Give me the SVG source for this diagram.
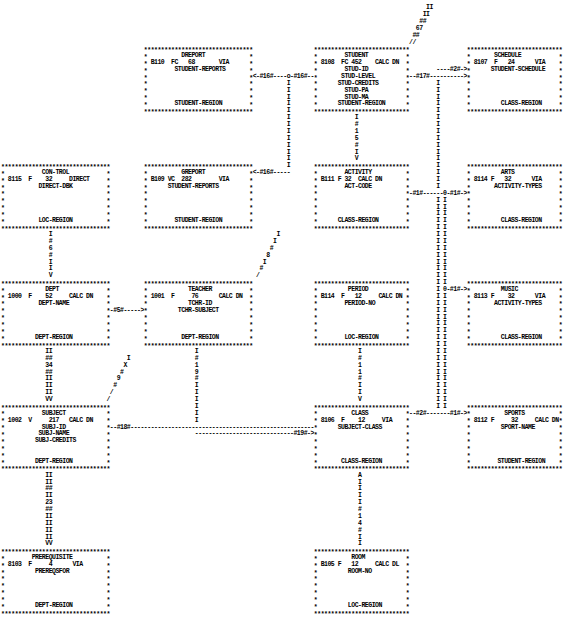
<svg xmlns="http://www.w3.org/2000/svg" xmlns:xlink="http://www.w3.org/1999/xlink" width="565" height="617" viewBox="0 0 565 617">
<style>
text{font-family:"Liberation Mono","DejaVu Sans Mono",monospace;font-size:6.5px;font-weight:bold;letter-spacing:-0.5px;fill:#000}
</style>
<defs>
<g id="fW">
<text x="0" y="3.8">********************************</text>
<text x="0" y="65.68">********************************</text>
<text x="0 0 0 0 0 0 0 0" y="10.68 17.55 24.43 31.3 38.18 45.05 51.93 58.8">********</text>
<text x="105.4 105.4 105.4 105.4 105.4 105.4 105.4 105.4" y="10.68 17.55 24.43 31.3 38.18 45.05 51.93 58.8">********</text>
</g>
<g id="fN">
<text x="0" y="3.8">****************************</text>
<text x="0" y="65.68">****************************</text>
<text x="0 0 0 0 0 0 0 0" y="10.68 17.55 24.43 31.3 38.18 45.05 51.93 58.8">********</text>
<text x="91.8 91.8 91.8 91.8 91.8 91.8 91.8 91.8" y="10.68 17.55 24.43 31.3 38.18 45.05 51.93 58.8">********</text>
</g>
</defs>
<rect width="565" height="617" fill="#fff"/>

<g id="n-dreport" transform="translate(143.85,48.25)"><use href="#fW"/>
<text x="37.4" y="9.08">DREPORT</text>
<text x="6.8" y="15.95">B110</text><text x="27.2" y="15.95">FC</text><text x="44.2" y="15.95">68</text><text x="74.8" y="15.95">VIA</text>
<text x="30.6" y="22.83">STUDENT-REPORTS</text>
<text x="30.6" y="57.2">STUDENT-REGION</text>
</g>
<g id="n-student" transform="translate(313.85,48.25)"><use href="#fN"/>
<text x="30.6" y="9.08">STUDENT</text>
<text x="6.8" y="15.95">8108</text><text x="27.2" y="15.95">FC</text><text x="37.4" y="15.95">452</text><text x="61.2" y="15.95">CALC DN</text>
<text x="30.6" y="22.83">STUD-ID</text>
<text x="27.2" y="29.7">STUD-LEVEL</text>
<text x="23.8" y="36.58">STUD-CREDITS</text>
<text x="30.6" y="43.45">STUD-PA</text>
<text x="30.6" y="50.33">STUD-MA</text>
<text x="23.8" y="57.2">STUDENT-REGION</text>
</g>
<g id="n-schedule" transform="translate(466.85,48.25)"><use href="#fN"/>
<text x="27.2" y="9.08">SCHEDULE</text>
<text x="6.8" y="15.95">8107</text><text x="27.2" y="15.95">F</text><text x="40.8" y="15.95">24</text><text x="68" y="15.95">VIA</text>
<text x="23.8" y="22.83">STUDENT-SCHEDULE</text>
<text x="34" y="57.2">CLASS-REGION</text>
</g>

<g id="n-control" transform="translate(1.05,165.125)"><use href="#fW"/>
<text x="40.8" y="9.08">CON-TROL</text>
<text x="6.8" y="15.95">8115</text><text x="27.2" y="15.95">F</text><text x="44.2" y="15.95">32</text><text x="68" y="15.95">DIRECT</text>
<text x="37.4" y="22.83">DIRECT-DBK</text>
<text x="37.4" y="57.2">LOC-REGION</text>
</g>
<g id="n-greport" transform="translate(143.85,165.125)"><use href="#fW"/>
<text x="37.4" y="9.08">GREPORT</text>
<text x="6.8" y="15.95">B109</text><text x="23.8" y="15.95">VC</text><text x="37.4" y="15.95">282</text><text x="74.8" y="15.95">VIA</text>
<text x="23.8" y="22.83">STUDENT-REPORTS</text>
<text x="30.6" y="57.2">STUDENT-REGION</text>
</g>
<g id="n-activity" transform="translate(313.85,165.125)"><use href="#fN"/>
<text x="30.6" y="9.08">ACTIVITY</text>
<text x="6.8" y="15.95">B111</text><text x="23.8" y="15.95">F</text><text x="30.6" y="15.95">32</text><text x="44.2" y="15.95">CALC DN</text>
<text x="30.6" y="22.83">ACT-CODE</text>
<text x="23.8" y="57.2">CLASS-REGION</text>
</g>
<g id="n-arts" transform="translate(466.85,165.125)"><use href="#fN"/>
<text x="34" y="9.08">ARTS</text>
<text x="6.8" y="15.95">8114</text><text x="23.8" y="15.95">F</text><text x="37.4" y="15.95">32</text><text x="64.6" y="15.95">VIA</text>
<text x="27.2" y="22.83">ACTIVITY-TYPES</text>
<text x="34" y="57.2">CLASS-REGION</text>
</g>

<g id="n-dept" transform="translate(1.05,282)"><use href="#fW"/>
<text x="44.2" y="9.08">DEPT</text>
<text x="6.8" y="15.95">1000</text><text x="27.2" y="15.95">F</text><text x="44.2" y="15.95">52</text><text x="68" y="15.95">CALC DN</text>
<text x="37.4" y="22.83">DEPT-NAME</text>
<text x="34" y="57.2">DEPT-REGION</text>
</g>
<g id="n-teacher" transform="translate(143.85,282)"><use href="#fW"/>
<text x="44.2" y="9.08">TEACHER</text>
<text x="6.8" y="15.95">1001</text><text x="27.2" y="15.95">F</text><text x="47.6" y="15.95">76</text><text x="74.8" y="15.95">CALC DN</text>
<text x="44.2" y="22.83">TCHR-ID</text>
<text x="34" y="29.7">TCHR-SUBJECT</text>
<text x="37.4" y="57.2">DEPT-REGION</text>
</g>
<g id="n-period" transform="translate(313.85,282)"><use href="#fN"/>
<text x="34" y="9.08">PERIOD</text>
<text x="6.8" y="15.95">B114</text><text x="27.2" y="15.95">F</text><text x="40.8" y="15.95">12</text><text x="64.6" y="15.95">CALC DN</text>
<text x="30.6" y="22.83">PERIOD-NO</text>
<text x="30.6" y="57.2">LOC-REGION</text>
</g>
<g id="n-music" transform="translate(466.85,282)"><use href="#fN"/>
<text x="34" y="9.08">MUSIC</text>
<text x="6.8" y="15.95">8113</text><text x="23.8" y="15.95">F</text><text x="40.8" y="15.95">32</text><text x="68" y="15.95">VIA</text>
<text x="27.2" y="22.83">ACTIVITY-TYPES</text>
<text x="34" y="57.2">CLASS-REGION</text>
</g>

<g id="n-subject" transform="translate(1.05,405.75)"><use href="#fW"/>
<text x="40.8" y="9.08">SUBJECT</text>
<text x="6.8" y="15.95">1002</text><text x="27.2" y="15.95">V</text><text x="47.6" y="15.95">217</text><text x="68" y="15.95">CALC DN</text>
<text x="40.8" y="22.83">SUBJ-ID</text>
<text x="37.4" y="29.7">SUBJ-NAME</text>
<text x="34" y="36.58">SUBJ-CREDITS</text>
<text x="34" y="57.2">DEPT-REGION</text>
</g>
<g id="n-class" transform="translate(313.85,405.75)"><use href="#fN"/>
<text x="37.4" y="9.08">CLASS</text>
<text x="6.8" y="15.95">8106</text><text x="27.2" y="15.95">F</text><text x="44.2" y="15.95">12</text><text x="68" y="15.95">VIA</text>
<text x="23.8" y="22.83">SUBJECT-CLASS</text>
<text x="27.2" y="57.2">CLASS-REGION</text>
</g>
<g id="n-sports" transform="translate(466.85,405.75)"><use href="#fN"/>
<text x="37.4" y="9.08">SPORTS</text>
<text x="6.8" y="15.95">8112</text><text x="23.8" y="15.95">F</text><text x="44.2" y="15.95">32</text><text x="68" y="15.95">CALC DN</text>
<text x="34" y="22.83">SPORT-NAME</text>
<text x="30.6" y="57.2">STUDENT-REGION</text>
</g>

<g id="n-prerequisite" transform="translate(1.05,550.125)"><use href="#fW"/>
<text x="30.6" y="9.08">PREREQUISITE</text>
<text x="6.8" y="15.95">8103</text><text x="27.2" y="15.95">F</text><text x="47.6" y="15.95">4</text><text x="71.4" y="15.95">VIA</text>
<text x="34" y="22.83">PREREQSFOR</text>
<text x="34" y="57.2">DEPT-REGION</text>
</g>
<g id="n-room" transform="translate(313.85,550.125)"><use href="#fN"/>
<text x="37.4" y="9.08">ROOM</text>
<text x="6.8" y="15.95">B105</text><text x="23.8" y="15.95">F</text><text x="37.4" y="15.95">12</text><text x="61.2" y="15.95">CALC DL</text>
<text x="34" y="22.83">ROOM-NO</text>
<text x="34" y="57.2">LOC-REGION</text>
</g>

<g id="connectors">
<text x="252.65" y="77.95">&lt;-#16#----o-#16#--</text>
<text x="252.65" y="174.2">&lt;-#16#-----</text>
<text x="436.25" y="71.08">----#2#-&gt;</text>
<text x="409.05" y="77.95">--#17#----------&gt;</text>
<text x="409.05" y="194.83">-#1#------0-#1#-&gt;</text>
<text x="443.05" y="291.08">0-#1#-&gt;</text>
<text x="109.85" y="311.7">-#5#-----&gt;</text>
<text x="409.05" y="414.83">--#2#-------#1#-&gt;</text>
<text x="109.85" y="428.58">--#18#------------------------------------------------------</text>
<text x="194.85" y="435.45">-----------------------------#19#-&gt;</text>

<text x="286.65 286.65 286.65 286.65 286.65 286.65 286.65 286.65 286.65 286.65 286.65 286.65 286.65" y="84.83 91.7 98.58 105.45 112.33 119.2 126.08 132.95 139.83 146.7 153.58 160.45 167.33">IIIIIIIIIIIII</text>
<text x="436.25 436.25 436.25 436.25 436.25 436.25 436.25 436.25 436.25 436.25 436.25 436.25 436.25 436.25 436.25 436.25" y="84.83 91.7 98.58 105.45 112.33 119.2 126.08 132.95 139.83 146.7 153.58 160.45 167.33 174.2 181.08 187.95">IIIIIIIIIIIIIIII</text>
<text x="436.25 436.25 436.25 436.25 436.25 436.25 436.25 436.25 436.25 436.25 436.25 436.25 436.25 436.25 436.25 436.25 436.25 436.25 436.25 436.25 436.25 436.25 436.25 436.25 436.25 436.25 436.25 436.25 436.25 436.25 436.25" y="201.7 208.58 215.45 222.33 229.2 236.08 242.95 249.83 256.7 263.58 270.45 277.33 284.2 291.08 297.95 304.83 311.7 318.58 325.45 332.33 339.2 346.08 352.95 359.83 366.7 373.58 380.45 387.33 394.2 401.08 407.95">IIIIIIIIIIIIIIIIIIIIIIIIIIIIIII</text>
<text x="443.05 443.05 443.05 443.05 443.05 443.05 443.05 443.05 443.05 443.05 443.05 443.05 443.05" y="201.7 208.58 215.45 222.33 229.2 236.08 242.95 249.83 256.7 263.58 270.45 277.33 284.2">IIIIIIIIIIIII</text>
<text x="443.05 443.05 443.05 443.05 443.05 443.05 443.05 443.05 443.05 443.05 443.05 443.05 443.05 443.05 443.05 443.05 443.05" y="297.95 304.83 311.7 318.58 325.45 332.33 339.2 346.08 352.95 359.83 366.7 373.58 380.45 387.33 394.2 401.08 407.95">IIIIIIIIIIIIIIIII</text>

<text x="354.65 354.65 354.65 354.65 354.65 354.65 354.65" y="119.2 126.08 132.95 139.83 146.7 153.58 160.45">I#15#IV</text>
<text x="48.65 48.65 48.65 48.65 48.65 48.65 48.65" y="236.08 242.95 249.83 256.7 263.58 270.45 277.33">I#6#IIV</text>
<text x="358.05 358.05 358.05 358.05 358.05 358.05 358.05 358.05" y="352.95 359.83 366.7 373.58 380.45 387.33 394.2 401.08">I#11#IIV</text>
<text x="358.05 358.05 358.05 358.05 358.05 358.05 358.05 358.05 358.05 358.05 358.05" y="476.7 483.58 490.45 497.33 504.2 511.08 517.95 524.83 531.7 538.58 545.45">AIIII#14#II</text>
<text x="194.85 194.85 194.85 194.85 194.85 194.85 194.85 194.85 194.85 194.85 194.85" y="352.95 359.83 366.7 373.58 380.45 387.33 394.2 401.08 407.95 414.83 421.7">I#19#IIIIII</text>

<text x="45.25" y="352.95">II</text>
<text x="45.25" y="359.83">##</text>
<text x="45.25" y="366.7">34</text>
<text x="45.25" y="373.58">##</text>
<text x="45.25" y="380.45">II</text>
<text x="45.25" y="387.33">II</text>
<text x="45.25" y="394.2">II</text>
<text x="45.25" y="401.08">VV</text>

<text x="45.25" y="476.7">II</text>
<text x="45.25" y="483.58">II</text>
<text x="45.25" y="490.45">##</text>
<text x="45.25" y="497.33">II</text>
<text x="45.25" y="504.2">23</text>
<text x="45.25" y="511.08">##</text>
<text x="45.25" y="517.95">II</text>
<text x="45.25" y="524.83">II</text>
<text x="45.25" y="531.7">II</text>
<text x="45.25" y="538.58">II</text>
<text x="45.25" y="545.45">VV</text>

<text x="426.05" y="9.2">II</text>
<text x="422.65" y="16.08">II</text>
<text x="419.25" y="22.95">##</text>
<text x="415.85" y="29.83">67</text>
<text x="412.45" y="36.7">##</text>
<text x="409.05" y="43.58">//</text>

<text x="276.45 273.05 269.65 266.25 262.85 259.45 256.05" y="236.08 242.95 249.83 256.7 263.58 270.45 277.33">II#8I#/</text>
<text x="126.85 123.45 120.05 116.65 113.25 109.85 106.45" y="359.83 366.7 373.58 380.45 387.33 394.2 401.08">IX#9#//</text>
</g>
</svg>
